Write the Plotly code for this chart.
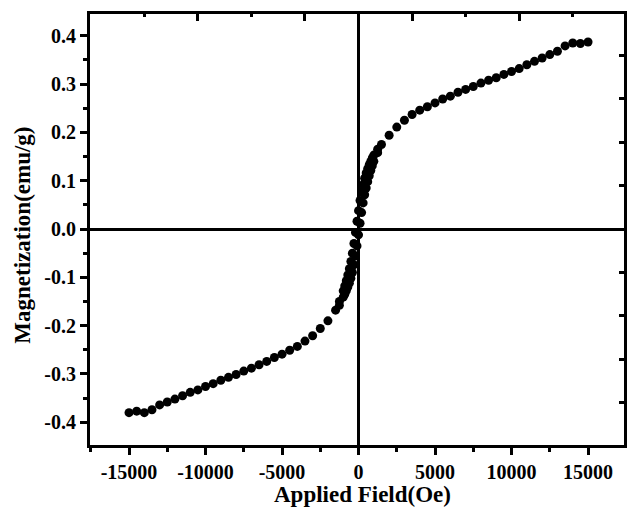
import plotly.graph_objects as go

# ---- data ----
H_pos_outer = [15000, 14500, 14000, 13500, 13000, 12500, 12000, 11500, 11000, 10500, 10000,
               9500, 9000, 8500, 8000, 7500, 7000, 6500, 6000, 5500, 5000, 4500, 4000,
               3500, 3000, 2500, 2000, 1500]
M_pos_outer = [0.387, 0.384, 0.385, 0.379, 0.368, 0.361, 0.354, 0.347, 0.340, 0.332, 0.326,
               0.320, 0.313, 0.308, 0.302, 0.295, 0.289, 0.283, 0.275, 0.269, 0.261, 0.253, 0.246,
               0.237, 0.225, 0.211, 0.194, 0.175]

H_neg_outer = [-15000, -14500, -14000, -13500, -13000, -12500, -12000, -11500, -11000, -10500, -10000,
               -9500, -9000, -8500, -8000, -7500, -7000, -6500, -6000, -5500, -5000, -4500, -4000,
               -3500, -3000, -2500, -2000, -1500]
M_neg_outer = [-0.380, -0.377, -0.380, -0.374, -0.364, -0.358, -0.352, -0.345, -0.338, -0.333, -0.326,
               -0.320, -0.313, -0.307, -0.301, -0.294, -0.288, -0.281, -0.274, -0.266, -0.259, -0.251, -0.243,
               -0.232, -0.221, -0.206, -0.190, -0.168]

H_down = [1250, 1000, 900, 800, 700, 600, 500, 400, 300, 200, 100, 0, -100, -200, -300,
          -400, -500, -600, -700, -800, -900, -1000, -1250]
M_down = [0.165, 0.153, 0.147, 0.140, 0.133, 0.125, 0.116, 0.105, 0.092, 0.077, 0.059, 0.038,
          0.016, -0.007, -0.030, -0.050, -0.067, -0.082, -0.095, -0.107, -0.118, -0.128, -0.150]

H_up = [-1250, -1000, -900, -800, -700, -600, -500, -400, -300, -200, -100, 0, 100, 200, 300,
        400, 500, 600, 700, 800, 900, 1000, 1250]
M_up = [-0.158, -0.141, -0.135, -0.128, -0.120, -0.112, -0.102, -0.090, -0.074, -0.056, -0.035,
        -0.012, 0.012, 0.034, 0.054, 0.071, 0.085, 0.098, 0.110, 0.121, 0.131, 0.140, 0.158]

x_tickvals = [-15000, -10000, -5000, 0, 5000, 10000, 15000]
x_ticktext = ["-15000", "-10000", "-5000", "0", "5000", "10000", "15000"]
y_tickvals = [-0.4, -0.3, -0.2, -0.1, 0.0, 0.1, 0.2, 0.3, 0.4]
y_ticktext = ["-0.4", "-0.3", "-0.2", "-0.1", "0.0", "0.1", "0.2", "0.3", "0.4"]

top_major = [-10500, -3500, 3500, 10500]
top_minor = [-14000, -7000, 0, 7000, 14000]
right_ticks = [-0.36, -0.27, -0.18, -0.09, 0.0, 0.09, 0.18, 0.27, 0.36]

x_title = "Applied Field(Oe)"
y_title = "Magnetization(emu/g)"

x_range = [-17550, 17350]
y_range = [-0.447, 0.445]

FONT = "Liberation Serif, Times New Roman, serif"

fig = go.Figure()
marker = dict(symbol="circle", size=9, color="black", line=dict(width=0))
for hx, my in [(H_neg_outer, M_neg_outer), (H_down, M_down), (H_up, M_up), (H_pos_outer, M_pos_outer)]:
    fig.add_trace(go.Scatter(x=hx, y=my, mode="markers", marker=marker,
                             showlegend=False, hoverinfo="skip"))

# transparent copy on the mirror axes so that their tick marks are drawn
fig.add_trace(go.Scatter(x=H_pos_outer, y=M_pos_outer, xaxis="x2", yaxis="y2", mode="markers",
                         marker=dict(size=1, opacity=0), showlegend=False, hoverinfo="skip"))

fig.update_layout(
    width=627, height=519,
    margin=dict(l=90, r=3, t=14, b=74),
    paper_bgcolor="white", plot_bgcolor="white",
    font=dict(family=FONT, color="black"),
    xaxis=dict(
        range=x_range, showgrid=False, zeroline=True, zerolinecolor="black", zerolinewidth=2.5,
        showline=True, linecolor="black", linewidth=3, mirror=True, automargin=False,
        tickmode="array", tickvals=x_tickvals, ticktext=x_ticktext,
        ticks="outside", ticklen=7, tickwidth=2.5, tickcolor="black",
        minor=dict(ticks="outside", ticklen=4, tickwidth=2.5, tickcolor="black",
                   tick0=2500, dtick=2500),
        tickfont=dict(family=FONT, size=20, color="black", weight="bold"),
    ),
    yaxis=dict(
        range=y_range, showgrid=False, zeroline=True, zerolinecolor="black", zerolinewidth=2.5,
        showline=True, linecolor="black", linewidth=3, mirror=True, automargin=False,
        tickmode="array", tickvals=y_tickvals, ticktext=y_ticktext,
        ticks="outside", ticklen=7, tickwidth=2.5, tickcolor="black",
        minor=dict(ticks="outside", ticklen=4, tickwidth=2.5, tickcolor="black",
                   tick0=0.05, dtick=0.1),
        tickfont=dict(family=FONT, size=20, color="black", weight="bold"),
    ),
    xaxis2=dict(
        overlaying="x", side="top", anchor="y", range=x_range, showgrid=False, zeroline=False,
        showline=False, showticklabels=False, automargin=False,
        tickmode="array", tickvals=top_major, ticks="inside", ticklen=7, tickwidth=2.5,
        tickcolor="black",
        minor=dict(ticks="inside", tickmode="array", tickvals=top_minor, ticklen=3,
                   tickwidth=2.5, tickcolor="black"),
    ),
    yaxis2=dict(
        overlaying="y", side="right", anchor="x", range=y_range, showgrid=False, zeroline=False,
        showline=False, showticklabels=False, automargin=False,
        tickmode="array", tickvals=right_ticks, ticks="inside", ticklen=5, tickwidth=2.5,
        tickcolor="black",
    ),
    annotations=[
        dict(text=x_title, xref="paper", yref="paper", x=0.510, y=-0.114,
             xanchor="center", yanchor="middle", showarrow=False,
             font=dict(family=FONT, size=23, color="black", weight="bold")),
        dict(text=y_title, xref="paper", yref="paper", x=-0.1255, y=0.488, textangle=-90,
             xanchor="center", yanchor="middle", showarrow=False,
             font=dict(family=FONT, size=23, color="black", weight="bold")),
    ],
)

# remove the default 8 px page margin and scrollbars so the figure fills the window exactly
fig.write_html(
    "out.html",
    config={"displayModeBar": False},
    post_script="document.body.style.margin='0px';"
                "document.documentElement.style.overflow='hidden';",
)
